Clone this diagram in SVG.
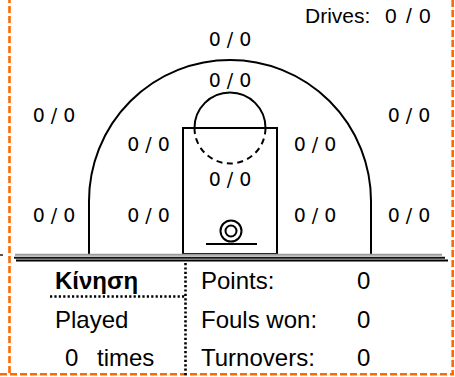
<svg xmlns="http://www.w3.org/2000/svg" width="455" height="377" viewBox="0 0 455 377">
<defs>
<style>
.bg{fill:#ffffff}
.frame{fill:none;stroke:#ff6a00;stroke-width:2.6;stroke-dasharray:7,3}
.court{fill:none;stroke:#000;stroke-width:2}
.dash{fill:none;stroke:#000;stroke-width:2;stroke-dasharray:6,4.5}
.dot{fill:none;stroke:#000;stroke-width:2.6;stroke-dasharray:2.2,2.2}
.zone{font-family:"DejaVu Sans",sans-serif;font-size:19px;fill:#000;text-anchor:middle}
.tbl{font-family:"Liberation Sans",Arial,sans-serif;font-size:24px;fill:#000}
.hdr{font-family:"Liberation Sans",Arial,sans-serif;font-size:24px;font-weight:bold;fill:#000}
.drv{font-family:"Liberation Sans",Arial,sans-serif;font-size:21px;fill:#000}
</style>
</defs>
<rect class="bg" x="0" y="0" width="455" height="377"/>
<g id="frame">
<path class="frame" d="M9.5,-4 V374.3 M0,374.3 H452.7 V-4"/>
</g>
<g id="court">
<path class="court" d="M89,254 V201 A141,141 0 0 1 371,201 V254"/>
<rect class="court" x="183" y="128" width="94" height="126"/>
<path class="court" d="M194.5,128 A35.5,35.5 0 0 1 265.5,128"/>
<path class="dash" d="M194.5,128 A35.5,35.5 0 0 0 265.5,128"/>
<circle class="court" cx="231" cy="231" r="10.5"/>
<circle class="court" cx="231" cy="231" r="5.5"/>
<line class="court" x1="206" y1="244" x2="257" y2="244"/>
</g>
<g id="baseline">
<line x1="0" y1="255" x2="3" y2="255" stroke="#555" stroke-width="2"/>
<line x1="15" y1="254.8" x2="442" y2="254.8" stroke="#9a9a9a" stroke-width="2"/>
<line x1="14" y1="257.7" x2="445" y2="257.7" stroke="#111" stroke-width="2"/>
<line x1="16" y1="260.6" x2="448" y2="260.6" stroke="#000" stroke-width="2"/>
</g>
<g id="zones">
<text class="zone" x="230" y="46">0 / 0</text>
<text class="zone" x="230" y="87">0 / 0</text>
<text class="zone" x="54" y="122">0 / 0</text>
<text class="zone" x="409" y="122">0 / 0</text>
<text class="zone" x="148.5" y="151">0 / 0</text>
<text class="zone" x="315" y="151">0 / 0</text>
<text class="zone" x="230" y="186">0 / 0</text>
<text class="zone" x="54" y="222">0 / 0</text>
<text class="zone" x="148.5" y="222">0 / 0</text>
<text class="zone" x="315" y="222">0 / 0</text>
<text class="zone" x="409" y="222">0 / 0</text>
</g>
<g id="drives">
<text class="drv" y="23"><tspan x="305">Drives:</tspan><tspan x="385">0</tspan><tspan x="406">/</tspan><tspan x="419">0</tspan></text>
</g>
<g id="table">
<path class="dot" d="M50,296.5 H185 M185.5,263 V377"/>
<text class="hdr" x="55" y="289">Κίνηση</text>
<text class="tbl" x="55" y="328">Played</text>
<text class="tbl" x="65" y="366">0</text>
<text class="tbl" x="97" y="366">times</text>
<text class="tbl" x="201" y="289">Points:</text>
<text class="tbl" x="201" y="328">Fouls won:</text>
<text class="tbl" x="201" y="366">Turnovers:</text>
<text class="tbl" x="357" y="289">0</text>
<text class="tbl" x="357" y="328">0</text>
<text class="tbl" x="357" y="366">0</text>
</g>
</svg>
